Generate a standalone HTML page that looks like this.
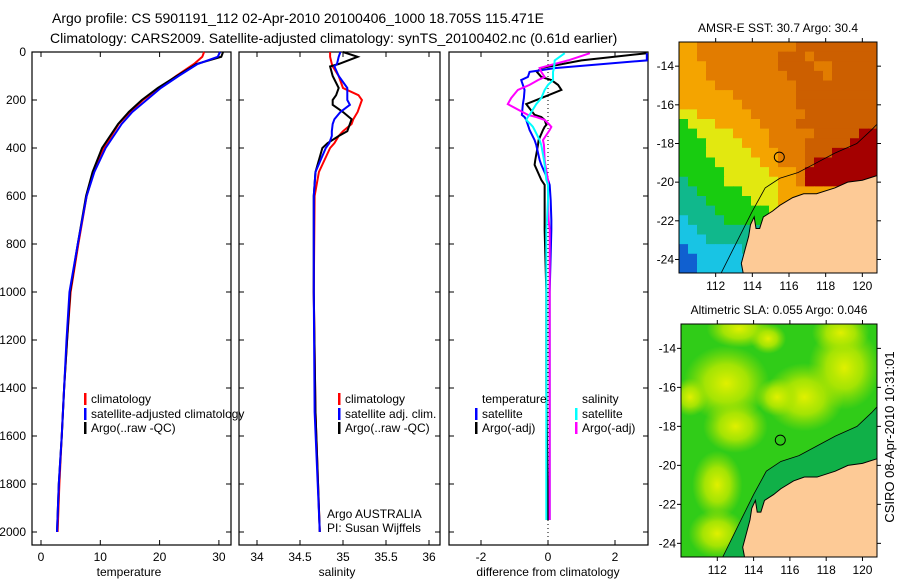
<!DOCTYPE html>
<html><head><meta charset="utf-8"><style>
body{margin:0;background:#fff}
svg{display:block;font-family:"Liberation Sans",sans-serif}
text{fill:#000}
</style></head><body>
<svg id="fig" width="900" height="580" viewBox="0 0 900 580">
<rect width="900" height="580" fill="#fff"/>
<text x="52" y="23" font-size="14">Argo profile: CS 5901191_112 02-Apr-2010 20100406_1000 18.705S 115.471E</text>
<text x="50" y="43" font-size="14">Climatology: CARS2009. Satellite-adjusted climatology: synTS_20100402.nc (0.61d earlier)</text>
<g id="panels"></g>
<g id="maps"></g>
<text transform="translate(894,437) rotate(-90)" font-size="13" text-anchor="middle">CSIRO 08-Apr-2010 10:31:01</text>
</svg>
<script>
// ---- profile data ----
const depthT=[0,20,50,100,150,200,250,300,400,500,600,800,1000,1200,1400,1600,1800,2000];
const tempClim=[27.5,27.2,25.8,22.8,20.0,17.2,15.0,13.1,10.6,8.9,7.7,6.3,5.0,4.4,3.9,3.5,3.1,2.8];
const tempSat=[30.2,29.8,26.4,23.2,20.2,17.8,15.4,13.6,10.9,9.0,7.7,6.2,4.8,4.3,3.9,3.5,3.0,2.7];
const tempArgo=[30.7,30.4,26.2,22.9,19.7,17.0,14.8,13.0,10.3,8.7,7.6,6.2,4.9,4.4,3.9,3.5,3.0,2.7];
const depthS=[0,20,50,60,100,150,180,200,220,250,280,300,330,350,380,400,500,600,1000,1500,2000];
const salClim=[34.85,34.85,34.87,34.88,34.95,35.0,35.18,35.22,35.2,35.17,35.12,35.1,35.0,34.95,34.9,34.85,34.72,34.67,34.66,34.68,34.73];
const salSat=[34.97,34.95,34.93,34.9,34.95,35.05,35.05,35.05,35.08,34.97,34.9,34.88,34.87,34.87,34.84,34.8,34.68,34.66,34.66,34.67,34.73];
const salArgo=[35.0,35.17,34.95,34.85,34.88,34.95,34.92,34.88,34.88,35.0,35.1,35.08,35.05,34.95,34.82,34.76,34.68,34.66,34.66,34.68,34.73];
const depthD=[5,35,67,83,104,117,137,158,192,217,262,271,283,304,312,325,367,388,450,470,533,554,617,700,741,1000,1400,1950];
const diffTsat=[2.95,2.95,0.2,-0.55,-0.6,-0.8,-0.75,-0.7,-0.72,-0.75,-0.78,-0.7,-0.65,-0.6,-0.58,-0.55,-0.4,-0.35,-0.25,-0.2,0.0,0.05,0.08,0.1,0.1,0.05,0.05,0.05];
const diffTargo=[2.95,1.0,-0.2,-0.33,-0.2,0.1,0.3,0.4,-0.2,-0.65,-0.4,-0.2,-0.1,-0.05,-0.1,-0.15,-0.28,-0.3,-0.38,-0.4,-0.2,-0.1,-0.1,-0.1,-0.1,-0.05,-0.05,0.0];
const diffSsat=[0.5,0.2,0.18,0.15,0.15,0.15,0.0,-0.1,-0.2,-0.35,-0.55,-0.6,-0.65,-0.5,-0.45,-0.4,-0.25,-0.2,-0.12,-0.1,-0.05,0.0,0.0,-0.03,-0.05,-0.05,-0.05,-0.05];
const diffSargo=[1.25,0.6,-0.25,-0.2,-0.1,-0.3,-0.55,-0.9,-1.1,-1.2,-0.6,-0.35,-0.1,0.05,0.1,0.05,-0.15,-0.12,-0.1,-0.08,0.0,0.0,0.0,0.02,0.05,0.05,0.05,0.05];
const tempTicks=[0,10,20,30];
const salTicks=[34,34.5,35,35.5,36];
const diffTicks=[-2,0,2];
const depthTicks=[0,200,400,600,800,1000,1200,1400,1600,1800,2000];
const NS='http://www.w3.org/2000/svg';
function el(tag,attrs,parent){const e=document.createElementNS(NS,tag);for(const k in attrs)e.setAttribute(k,attrs[k]);parent.appendChild(e);return e;}
const yD=d=>52+d*0.24;
const xT=t=>41+t*5.93;
const xS=s=>257+(s-34)*86;
const xDf=v=>548+v*33.5;
const panels=document.getElementById('panels');
function panel(name,x0,x1,xf,ticks,label,lblx,fmt){
  const g=el('g',{},panels);
  
  
  const r=el('rect',{x:x0,y:52,width:x1-x0,height:493,fill:'none',stroke:'#000','stroke-width':1.2},g);
  
  
  ticks.forEach(t=>{const x=xf(t);
    el('line',{x1:x,x2:x,y1:545,y2:540,stroke:'#000'},g);
    el('line',{x1:x,x2:x,y1:52,y2:57,stroke:'#000'},g);
    const tx=el('text',{x:x,y:561,'font-size':12,'text-anchor':'middle'},g);tx.textContent=fmt(t);
    
    
  });
  depthTicks.forEach(d=>{const y=yD(d);
    el('line',{x1:x0,x2:x0+5,y1:y,y2:y,stroke:'#000'},g);
    el('line',{x1:x1,x2:x1-5,y1:y,y2:y,stroke:'#000'},g);
  });
  const lb=el('text',{x:lblx,y:576,'font-size':12,'text-anchor':'middle'},g);lb.textContent=label;
  
  
  return g;
}
function line(g,xs,ds,xf,col,name,w){
  const p=el('polyline',{points:xs.map((v,i)=>xf(v)+','+yD(ds[i])).join(' '),fill:'none',stroke:col,'stroke-width':w||2},g);
  
  
}
function txt(g,x,y,s,name){const t=el('text',{x:x,y:y,'font-size':12},g);t.textContent=s;
  
  }
function mark(g,x,y,c){el('rect',{x:x,y:y-10,width:2.5,height:12,fill:c},g);}
// panel 1
const g1=panel('temperature',32,231,xT,tempTicks,'temperature',129,t=>t);
depthTicks.forEach(d=>{const t=el('text',{x:26,y:yD(d)+4,'font-size':12,'text-anchor':'end'},g1);t.textContent=d;
  
  });
line(g1,tempClim,depthT,xT,'#f00','temp-climatology-line');
line(g1,tempArgo,depthT,xT,'#000','temp-argo-line');
line(g1,tempSat,depthT,xT,'#00f','temp-satellite-line');
mark(g1,84,403,'#f00');txt(g1,91,403,'climatology','legend-climatology');
mark(g1,84,418,'#00f');txt(g1,91,418,'satellite-adjusted climatology','legend-satellite');
mark(g1,84,432,'#000');txt(g1,91,432,'Argo(..raw -QC)','legend-argo');
// panel 2
const g2=panel('salinity',239,440,xS,salTicks,'salinity',337,t=>t);
line(g2,salClim,depthS,xS,'#f00','sal-climatology-line');
line(g2,salArgo,depthS,xS,'#000','sal-argo-line');
line(g2,salSat,depthS,xS,'#00f','sal-satellite-line');
mark(g2,338,403,'#f00');txt(g2,345,403,'climatology','legend-climatology');
mark(g2,338,418,'#00f');txt(g2,345,418,'satellite adj. clim.','legend-satellite');
mark(g2,338,432,'#000');txt(g2,345,432,'Argo(..raw -QC)','legend-argo');
txt(g2,327,518,'Argo AUSTRALIA','float-owner-label');
txt(g2,327,532,'PI: Susan Wijffels','pi-label');
// panel 3
const g3=panel('difference',449,648,xDf,diffTicks,'difference from climatology',548,t=>t);
el('line',{x1:xDf(0),x2:xDf(0),y1:52,y2:545,stroke:'#000','stroke-dasharray':'1,3'},g3);
line(g3,diffTargo,depthD,xDf,'#000','diff-temp-argo-line');
line(g3,diffTsat,depthD,xDf,'#00f','diff-temp-satellite-line');
line(g3,diffSargo,depthD,xDf,'#f0f','diff-sal-argo-line');
line(g3,diffSsat,depthD,xDf,'#0ff','diff-sal-satellite-line');
el('rect',{x:650,y:0,width:250,height:52,fill:'#fff'},g3);
txt(g3,482,403,'temperature','legend-temperature-heading');
txt(g3,582,403,'salinity','legend-salinity-heading');
mark(g3,475,418,'#00f');txt(g3,482,418,'satellite','legend-temp-satellite');
mark(g3,475,432,'#000');txt(g3,482,432,'Argo(-adj)','legend-temp-argo');
mark(g3,575,418,'#0ff');txt(g3,582,418,'satellite','legend-sal-satellite');
mark(g3,575,432,'#f0f');txt(g3,582,432,'Argo(-adj)','legend-sal-argo');

// ---- maps ----
const maps=document.getElementById('maps');
const sstRows=[
"LLOOOOOOOOOOODDDDDDDDD",
"LLOOOOOOOOODDDODDDDDDD",
"LLLOOOOOOOODDDDOODDDDD",
"LLLOOOOOOOOODDDDODDDDD",
"LLLLOOOOOOOOODDDDDDDDD",
"LLLLLLOOOOOOODDDDDDDDD",
"LLLLLLLOOOOOODDDDDDDDD",
"YYLLLLLLOOOOOODDDDDDDD",
"GYYYLLLLLOOOODDDDDDDDD",
"GGYYYYLLLLOOOOODDDDDRR",
"GGGYYYYLLLOOOODDDDDRRR",
"GGGYYYYYLLLOOODDDRRRRR",
"GGGGYYYYYLLOOODRRRRRRR",
"GGGGGYYYYYLLLORRRRRRRR",
"TGGGGYYYYYYLLORRRRRRRR",
"TTGGGGGYYYYLLLLLLLLLLL",
"TTTGGGGGYYYLLLLLLLLLLL",
"TTTTGGGGGGYYLLLLLLLLLL",
"CTTTTGGGGGTYLLLLLLLLLL",
"CCTTTTTTTTCCLLLLLLLLLL",
"CCCTTTTTTCCCLLLLLLLLLL",
"BCCCCCCTCCCCLLLLLLLLLL",
"BBCCCCCCCCCCLLLLLLLLLL",
"BBCCCCCCCCCCLLLLLLLLLL"];
const pal={D:'#cc5f00',O:'#e27c00',L:'#f4a400',Y:'#e2e810',G:'#18cc10',T:'#10b88c',C:'#18c4e4',B:'#1060d0',R:'#a40000'};
const coast=[[113.5,-24.7],[113.4,-24.2],[113.6,-23.5],[113.8,-22.8],[113.9,-22.2],[114.1,-21.8],[114.2,-22.4],[114.4,-22.4],[114.6,-21.8],[115.1,-21.5],[115.5,-21.2],[116.2,-20.8],[116.8,-20.6],[117.5,-20.6],[118.5,-20.3],[119.2,-20.0],[120,-19.9],[121,-19.6],[121,-24.7]];
const contour=[[112.3,-24.7],[113.2,-23],[114,-21.5],[114.7,-20.3],[115.5,-19.8],[116.5,-19.5],[117.5,-19.0],[118.5,-18.5],[119.7,-18.0],[120.5,-17.3],[121,-16.8]];
function map(name,L,T,R,B,title,fill){
  const g=el('g',{},maps);
  
  
  const lx=lon=>L+(lon-110)*(R-L)/10.8, ly=lat=>T+(-12.75-lat)*(B-T)/11.95;
  const cid='clip'+name;const cp=el('clipPath',{id:cid},g);el('rect',{x:L,y:T,width:R-L,height:B-T},cp);
  const inner=el('g',{'clip-path':'url(#'+cid+')'},g);
  fill(inner,lx,ly);
  el('polygon',{points:coast.map(p=>lx(p[0])+','+ly(p[1])).join(' ')+' '+lx(121)+','+ly(-25),fill:'#fdca96',stroke:'#000','stroke-width':1},inner);
  el('polyline',{points:contour.map(p=>lx(p[0])+','+ly(p[1])).join(' '),fill:'none',stroke:'#000','stroke-width':0.8},inner);
  const c=el('circle',{cx:lx(115.471),cy:ly(-18.705),r:5,fill:'none',stroke:'#000','stroke-width':1},g);
  
  
  el('rect',{x:L,y:T,width:R-L,height:B-T,fill:'none',stroke:'#000'},g);
  [112,114,116,118,120].forEach(v=>{const x=lx(v);el('line',{x1:x,x2:x,y1:B,y2:B+4,stroke:'#000'},g);el('line',{x1:x,x2:x,y1:T,y2:T-4,stroke:'#000'},g);
    const t=el('text',{x:x,y:B+17,'font-size':12,'text-anchor':'middle'},g);t.textContent=v;
    
    });
  [-14,-16,-18,-20,-22,-24].forEach(v=>{const y=ly(v);el('line',{x1:L,x2:L-4,y1:y,y2:y,stroke:'#000'},g);el('line',{x1:R,x2:R+4,y1:y,y2:y,stroke:'#000'},g);
    const t=el('text',{x:L-5,y:y+4,'font-size':12,'text-anchor':'end'},g);t.textContent=v;
    
    });
  const tt=el('text',{x:(L+R)/2,y:T-10,'font-size':12,'text-anchor':'middle'},g);tt.textContent=title;
  
  
}
map('sst-map',679,42,877,273,'AMSR-E SST: 30.7 Argo: 30.4',(g,lx,ly)=>{
  const nc=sstRows[0].length,nr=sstRows.length,cw=198/nc,ch=231/nr;
  sstRows.forEach((row,r)=>row.split('').forEach((k,c)=>{el('rect',{x:679+c*cw,y:42+r*ch,width:cw+0.5,height:ch+0.5,fill:pal[k]},g);}));
});
const slaHi=[[116.8,-16.5,2.2,1.8],[119,-15,2.0,2.2],[112.5,-15.8,2.4,2.0],[113,-18,1.8,1.4],[112,-21,1.4,1.8],[112,-23.5,1.6,1.3],[113.2,-13,1.8,1.0],[118.8,-13.2,1.6,1.1],[110.5,-16.5,1.0,1.0],[115.3,-16.5,1.2,1.0],[114.8,-13.5,1.0,0.8]];
map('sla-map',681,324,877,557,'Altimetric SLA: 0.055 Argo: 0.046',(g,lx,ly)=>{
  const d=el('defs',{},g);
  const rg=el('radialGradient',{id:'hi'},d);el('stop',{offset:'0','stop-color':'#e0f000'},rg);el('stop',{offset:'0.5','stop-color':'#b8e800','stop-opacity':0.85},rg);el('stop',{offset:'1','stop-color':'#a0e000','stop-opacity':0},rg);
  el('rect',{x:681,y:324,width:196,height:233,fill:'#30cc18'},g);
  slaHi.forEach(b=>el('ellipse',{cx:lx(b[0]),cy:ly(b[1]),rx:b[2]*18,ry:b[3]*19,fill:'url(#hi)'},g));
  el('polygon',{points:[[112.3,-24.7],[113.2,-23],[114,-21.5],[114.7,-20.3],[115.5,-19.8],[116.5,-19.5],[117.5,-19.0],[118.5,-18.5],[119.7,-18.0],[120.5,-17.3],[121,-16.8],[121,-24.7]].map(p=>lx(p[0])+','+ly(p[1])).join(' '),fill:'#10b048'},g);
});
</script>
</body></html>
